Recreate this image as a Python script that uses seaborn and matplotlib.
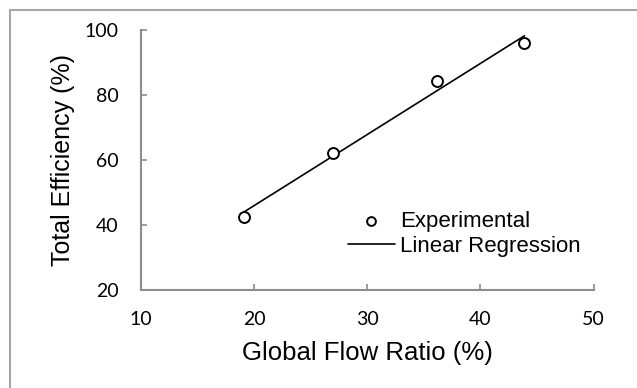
import matplotlib
matplotlib.use('Agg')
import matplotlib.pyplot as plt
from matplotlib.patches import Rectangle
import pandas as pd
import seaborn as sns

# values
flow_ratio = [19.1, 27.0, 36.2, 43.9]
efficiency = [42.4, 62.3, 84.3, 95.9]
x_ticks = [10, 20, 30, 40, 50]
y_ticks = [20, 40, 60, 80, 100]

data = pd.DataFrame({'flow_ratio': flow_ratio, 'efficiency': efficiency})

sns.set_style('ticks')
plt.rcParams['font.family'] = ['Liberation Sans', 'DejaVu Sans']
plt.rcParams['text.color'] = 'black'
plt.rcParams['axes.labelcolor'] = 'black'

fig = plt.figure(figsize=(6.37, 3.88), dpi=100)
ax = fig.add_axes([141 / 637, 1 - 290 / 388, 452.5 / 637, 260 / 388])

sns.scatterplot(data=data, x='flow_ratio', y='efficiency', ax=ax,
                marker='o', s=62, facecolor='white', edgecolor='black',
                linewidth=1.4, label='Experimental', zorder=3)
sns.regplot(data=data, x='flow_ratio', y='efficiency', ax=ax, scatter=False,
            ci=None, truncate=True, label='Linear Regression',
            line_kws={'color': 'black', 'linewidth': 1.2})

ax.set_xlim(10, 50)
ax.set_ylim(20, 100)
ax.set_xticks(x_ticks)
ax.set_yticks(y_ticks)
ax.tick_params(direction='in', length=4, width=1.2, color='#8c8c8c',
               labelcolor='black')
ax.tick_params(axis='y', pad=16)
ax.tick_params(axis='x', pad=15)
for lbl in ax.get_xticklabels() + ax.get_yticklabels():
    lbl.set_fontfamily('Lato')
    lbl.set_fontsize(14)
for side in ['left', 'bottom']:
    ax.spines[side].set_color('#8c8c8c')
    ax.spines[side].set_linewidth(1.5)
sns.despine(ax=ax)

ax.set_xlabel('Global Flow Ratio (%)', fontsize=18.5, va='center')
ax.set_ylabel('Total Efficiency (%)', fontsize=18, va='center')
ax.xaxis.set_label_coords(0.5, (290 - 353) / 260)
ax.yaxis.set_label_coords((63 - 141) / 452.5, 0.5)

ax.legend(loc='center left', bbox_to_anchor=((348 - 141) / 452.5, (290 - 234) / 260),
          frameon=False, fontsize=16, handlelength=2.1, handletextpad=0.25,
          borderpad=0, borderaxespad=0, labelspacing=0.15, markerscale=0.8)

# light outer chart border
fig.add_artist(Rectangle((10 / 637, -0.1), 1.2, 1.1 - 10 / 388,
                         transform=fig.transFigure, fill=False,
                         edgecolor='#a6a6a6', linewidth=1.5))

fig.savefig('out.png', dpi=100)
plt.close(fig)
